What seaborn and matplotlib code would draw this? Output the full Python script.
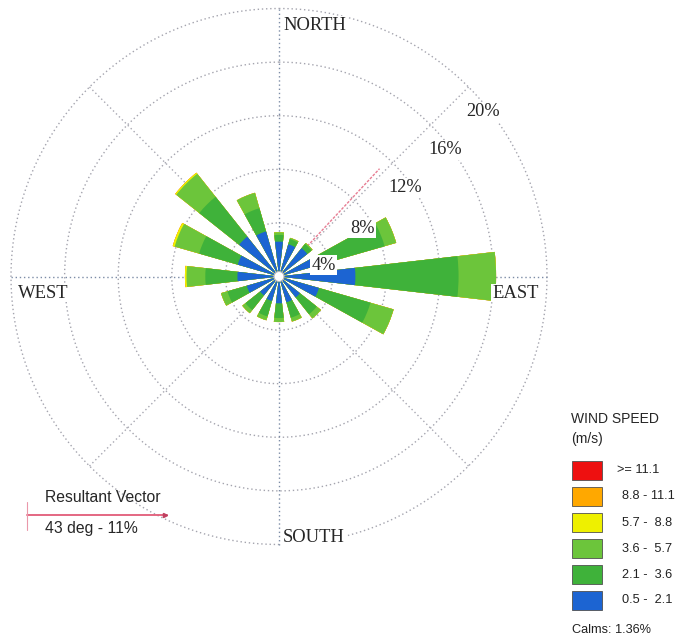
import numpy as np
import pandas as pd
import matplotlib
matplotlib.use("Agg")
import matplotlib.pyplot as plt
from matplotlib.patches import Rectangle, Circle
from matplotlib.lines import Line2D
import seaborn as sns

# ---------------- data ----------------
directions = ["N", "NNE", "NE", "ENE", "E", "ESE", "SE", "SSE",
              "S", "SSW", "SW", "WSW", "W", "WNW", "NW", "NNW"]
bearings_deg = [0, 22.5, 45, 67.5, 90, 112.5, 135, 157.5,
                180, 202.5, 225, 247.5, 270, 292.5, 315, 337.5]

speed_labels = ["0.5 -  2.1", "2.1 -  3.6", "3.6 -  5.7",
                "5.7 -  8.8", "8.8 - 11.1", ">= 11.1"]
speed_colors = ["#1c64d2", "#3fb23a", "#6cc53b", "#eef000", "#ffa800", "#ee1010"]

# frequency (%) of each speed class per direction
freq_0p5_2p1 = [2.6, 2.5, 2.7, 3.0, 5.7, 3.1, 2.0, 2.0, 2.0, 1.9, 1.8, 2.5, 3.1, 3.2, 3.8, 3.5]
freq_2p1_3p6 = [0.5, 0.4, 0.4, 5.2, 7.7, 4.0, 1.6, 1.2, 1.1, 1.2, 1.4, 1.5, 2.4, 3.0, 3.8, 1.8]
freq_3p6_5p7 = [0.2, 0.1, 0.1, 0.9, 2.8, 1.8, 0.4, 0.3, 0.3, 0.3, 0.3, 0.5, 1.4, 1.9, 2.2, 1.2]
freq_5p7_8p8 = [0.0, 0.0, 0.0, 0.0, 0.0, 0.0, 0.0, 0.0, 0.0, 0.0, 0.0, 0.0, 0.12, 0.15, 0.1, 0.0]
freq_8p8_11p1 = [0.0] * 16
freq_ge_11p1 = [0.0] * 16

ring_values = [4, 8, 12, 16, 20]
ring_labels = ["4%", "8%", "12%", "16%", "20%"]
calms_pct = 1.36
resultant_deg = 43
resultant_pct = 11

# ---------------- layout helpers ----------------
W, H = 686, 643
def fx(px):
    return px / W
def fy(py):
    return 1 - py / H

CX, CY, R = 279.0, 276.5, 268.0   # pixel centre and radius of the 20% ring

sns.set_style("white")
fig = plt.figure(figsize=(W / 100, H / 100), dpi=100)
ax = fig.add_axes([fx(CX - R), fy(CY + R), 2 * R / W, 2 * R / H], projection="polar")
ax.set_theta_zero_location("N")
ax.set_theta_direction(-1)

# ---------------- table of cumulative values ----------------
classes = [freq_0p5_2p1, freq_2p1_3p6, freq_3p6_5p7, freq_5p7_8p8, freq_8p8_11p1, freq_ge_11p1]
cum = np.cumsum(np.array(classes, dtype=float), axis=0)
rows = []
for k, lab in enumerate(speed_labels):
    for d, b in enumerate(bearings_deg):
        rows.append({"direction": directions[d], "theta": np.deg2rad(b),
                     "speed": lab, "cum": cum[k, d]})
df = pd.DataFrame(rows)

# grid: rings and spokes (dotted)
tt = np.linspace(0, 2 * np.pi, 721)
for rv in ring_values:
    ax.plot(tt, np.full_like(tt, rv), color="#a4a4ae", lw=1.0,
            ls=(0, (1, 2)), zorder=1, clip_on=False)
for b in range(0, 360, 45):
    col = "#7c8ca6" if b % 90 == 0 else "#a8a8b2"
    ax.plot([np.deg2rad(b)] * 2, [0, 20], color=col, lw=1.0,
            ls=(0, (1, 2)), zorder=1, clip_on=False)

# resultant vector
ax.plot([np.deg2rad(resultant_deg)] * 2, [0, resultant_pct], color="#e77d93",
        lw=1.0, ls=(0, (2, 1)), zorder=1.5)

# stacked bars: draw outermost cumulative first
bar_width = 13.0 / 22.5
for k in reversed(range(len(speed_labels))):
    sub = df[df["speed"] == speed_labels[k]]
    sns.barplot(data=sub, x="theta", y="cum", native_scale=True, orient="x",
                color=speed_colors[k], saturation=1, width=bar_width,
                linewidth=0, errorbar=None, ax=ax, zorder=3)

ax.set_xlabel("")
ax.set_ylabel("")
ax.set_ylim(0, 20)
ax.set_xticks([])
ax.set_yticks([])
ax.grid(False)
ax.spines["polar"].set_visible(False)
ax.set_facecolor("white")

# calm circle in the centre
ax.add_artist(Circle((0.5, 0.5), 5.0 / (2 * R), transform=ax.transAxes,
                     fc="white", ec="#b8b8b8", lw=0.8, zorder=6))

# ---------------- texts ----------------
serif = "Liberation Serif"
sans = "Liberation Sans"
wbox = dict(fc="white", ec="none", pad=0.6)

fig.text(fx(283), fy(25), "NORTH", family=serif, fontsize=13.4, ha="left", va="center", bbox=wbox)
fig.text(fx(283), fy(537), "SOUTH", family=serif, fontsize=13.4, ha="left", va="center", bbox=wbox)
fig.text(fx(492), fy(293), "EAST", family=serif, fontsize=13.4, ha="left", va="center", bbox=wbox)
fig.text(fx(18), fy(293), "WEST", family=serif, fontsize=13.4, ha="left", va="center", bbox=wbox)

label_pos = [(323.5, 265.0), (362.0, 228.5), (405.0, 188.0), (445.0, 150.0), (483.0, 112.0)]
for (px, py), lab in zip(label_pos, ring_labels):
    fig.text(fx(px), fy(py), lab, family=serif, fontsize=13.2, ha="center", va="center",
             bbox=dict(fc="white", ec="none", pad=1.0))

# resultant vector box
fig.text(fx(45), fy(497), "Resultant Vector", family=sans, fontsize=11.3, ha="left", va="center")
fig.text(fx(45), fy(528.5), f"{resultant_deg} deg - {resultant_pct}%", family=sans,
         fontsize=11.3, ha="left", va="center")
fig.add_artist(Line2D([fx(27), fx(167)], [fy(515), fy(515)], color="#e25c78", lw=1.3))
fig.add_artist(Line2D([fx(27), fx(27)], [fy(502), fy(530)], color="#ea98aa", lw=0.8))
fig.add_artist(Line2D([fx(165)], [fy(515)], marker=">", ms=3, color="#c04060"))

# legend
fig.text(fx(571), fy(419), "WIND SPEED", family=sans, fontsize=10, ha="left", va="center")
fig.text(fx(571), fy(439), "(m/s)", family=sans, fontsize=10, ha="left", va="center")
row_centers = [600.3, 574.7, 548.5, 522.5, 496.3, 470.3]   # from 0.5-2.1 up to >=11.1
for k, lab in enumerate(speed_labels):
    yc = row_centers[k]
    fig.add_artist(Rectangle((fx(571.7), fy(yc + 9.5)), 30 / W, 19 / H,
                             transform=fig.transFigure, fc=speed_colors[k],
                             ec="#505050", lw=0.6))
    tx = 616.7 if lab.startswith(">") else 621.7
    fig.text(fx(tx), fy(yc), lab, family=sans, fontsize=9.2, ha="left", va="center",
             color="#222222")
fig.text(fx(572), fy(630), f"Calms: {calms_pct:.2f}%", family=sans, fontsize=9.2,
         ha="left", va="center", color="#222222")

fig.savefig("out.png", dpi=100, facecolor="white")
